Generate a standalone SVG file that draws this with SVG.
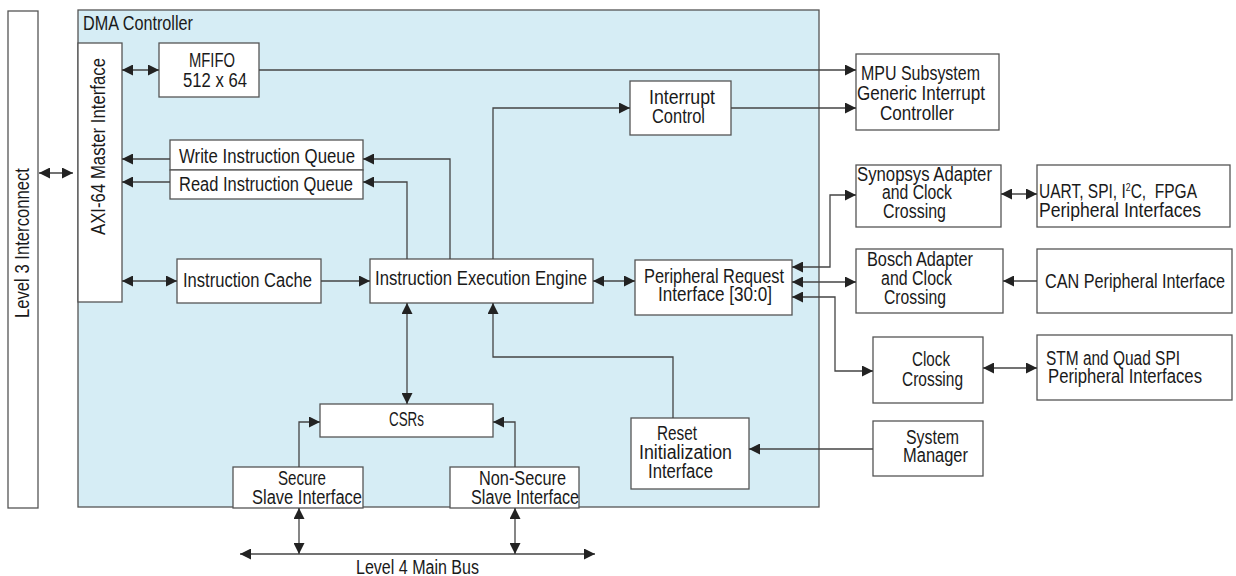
<svg xmlns="http://www.w3.org/2000/svg" width="1236" height="576" viewBox="0 0 1236 576">
<style>
.b{fill:#fff;stroke:#555;stroke-width:1.3}
.t{font-family:"Liberation Sans",Arial,sans-serif;font-size:19.5px;fill:#1a1a1a}
.c path{fill:none;stroke:#444;stroke-width:1.3}
.d{marker-end:url(#ah)}
.dd{marker-end:url(#ah);marker-start:url(#ah)}
</style>
<defs>
<marker id="ah" viewBox="0 0 12 12" refX="12" refY="6" markerWidth="12" markerHeight="11" markerUnits="userSpaceOnUse" orient="auto-start-reverse">
<path d="M0,0 L12,6 L0,12 z" fill="#222"/>
</marker>
</defs>
<rect width="1236" height="576" fill="#fff"/>

<g id="level3">
<rect class="b" x="8" y="11" width="30" height="497"/>
<text class="t" transform="translate(29,243) rotate(-90)" text-anchor="middle" textLength="150" lengthAdjust="spacingAndGlyphs">Level 3 Interconnect</text>
</g>

<g id="dma">
<rect x="78" y="10" width="741" height="497" fill="#d6edf5" stroke="#555" stroke-width="1.3"/>
<text class="t" x="83" y="30" textLength="110" lengthAdjust="spacingAndGlyphs">DMA Controller</text>
</g>

<g id="axi">
<rect class="b" x="78" y="43" width="44" height="259"/>
<text class="t" transform="translate(105,146.5) rotate(-90)" text-anchor="middle" textLength="177" lengthAdjust="spacingAndGlyphs">AXI-64 Master Interface</text>
</g>

<g id="mfifo">
<rect class="b" x="159" y="43" width="100" height="54"/>
<text class="t" x="189" y="67" textLength="46" lengthAdjust="spacingAndGlyphs">MFIFO</text>
<text class="t" x="183" y="87" textLength="64" lengthAdjust="spacingAndGlyphs">512 x 64</text>
</g>

<g id="intctrl">
<rect class="b" x="630" y="81" width="101" height="54"/>
<text class="t" x="649" y="104" textLength="66" lengthAdjust="spacingAndGlyphs">Interrupt</text>
<text class="t" x="652" y="123" textLength="53" lengthAdjust="spacingAndGlyphs">Control</text>
</g>

<g id="mpu">
<rect class="b" x="856" y="54" width="143" height="76"/>
<text class="t" x="861" y="80" textLength="119" lengthAdjust="spacingAndGlyphs">MPU Subsystem</text>
<text class="t" x="857" y="100" textLength="128" lengthAdjust="spacingAndGlyphs">Generic Interrupt</text>
<text class="t" x="880" y="120" textLength="74" lengthAdjust="spacingAndGlyphs">Controller</text>
</g>

<g id="writeq">
<rect class="b" x="170" y="140" width="193" height="30"/>
<text class="t" x="179" y="163" textLength="176" lengthAdjust="spacingAndGlyphs">Write Instruction Queue</text>
</g>

<g id="readq">
<rect class="b" x="170" y="170" width="193" height="29"/>
<text class="t" x="179" y="191" textLength="174" lengthAdjust="spacingAndGlyphs">Read Instruction Queue</text>
</g>

<g id="icache">
<rect class="b" x="177" y="259" width="144" height="44"/>
<text class="t" x="183" y="287" textLength="129" lengthAdjust="spacingAndGlyphs">Instruction Cache</text>
</g>

<g id="iee">
<rect class="b" x="370" y="259" width="223" height="44"/>
<text class="t" x="375" y="285" textLength="212" lengthAdjust="spacingAndGlyphs">Instruction Execution Engine</text>
</g>

<g id="pri">
<rect class="b" x="635" y="260" width="157" height="55"/>
<text class="t" x="644" y="283" textLength="140" lengthAdjust="spacingAndGlyphs">Peripheral Request</text>
<text class="t" x="658" y="301" textLength="114" lengthAdjust="spacingAndGlyphs">Interface [30:0]</text>
</g>

<g id="synopsys">
<rect class="b" x="856" y="165" width="145" height="62"/>
<text class="t" x="857" y="181" textLength="135" lengthAdjust="spacingAndGlyphs">Synopsys Adapter</text>
<text class="t" x="882" y="199" textLength="70" lengthAdjust="spacingAndGlyphs">and Clock</text>
<text class="t" x="883" y="218" textLength="63" lengthAdjust="spacingAndGlyphs">Crossing</text>
</g>

<g id="uart">
<rect class="b" x="1037" y="165" width="193" height="62"/>
<text class="t" x="1039" y="198" xml:space="preserve" textLength="158" lengthAdjust="spacingAndGlyphs">UART, SPI, I<tspan font-size="11" dy="-7">2</tspan><tspan dy="7">C,  FPGA</tspan></text>
<text class="t" x="1039" y="217" textLength="162" lengthAdjust="spacingAndGlyphs">Peripheral Interfaces</text>
</g>

<g id="bosch">
<rect class="b" x="856" y="249" width="147" height="64"/>
<text class="t" x="867" y="266" textLength="106" lengthAdjust="spacingAndGlyphs">Bosch Adapter</text>
<text class="t" x="881" y="285" textLength="71" lengthAdjust="spacingAndGlyphs">and Clock</text>
<text class="t" x="884" y="304" textLength="62" lengthAdjust="spacingAndGlyphs">Crossing</text>
</g>

<g id="can">
<rect class="b" x="1037" y="249" width="195" height="64"/>
<text class="t" x="1045" y="288" textLength="180" lengthAdjust="spacingAndGlyphs">CAN Peripheral Interface</text>
</g>

<g id="clockx">
<rect class="b" x="873" y="337" width="110" height="66"/>
<text class="t" x="912" y="366" textLength="38" lengthAdjust="spacingAndGlyphs">Clock</text>
<text class="t" x="902" y="386" textLength="61" lengthAdjust="spacingAndGlyphs">Crossing</text>
</g>

<g id="stm">
<rect class="b" x="1037" y="335" width="195" height="65"/>
<text class="t" x="1046" y="365" textLength="134" lengthAdjust="spacingAndGlyphs">STM and Quad SPI</text>
<text class="t" x="1048" y="383" textLength="154" lengthAdjust="spacingAndGlyphs">Peripheral Interfaces</text>
</g>

<g id="sysmgr">
<rect class="b" x="873" y="421" width="110" height="55"/>
<text class="t" x="906" y="444" textLength="53" lengthAdjust="spacingAndGlyphs">System</text>
<text class="t" x="903" y="462" textLength="65" lengthAdjust="spacingAndGlyphs">Manager</text>
</g>

<g id="reset">
<rect class="b" x="631" y="418" width="118" height="71"/>
<text class="t" x="657" y="440" textLength="40" lengthAdjust="spacingAndGlyphs">Reset</text>
<text class="t" x="639" y="459" textLength="93" lengthAdjust="spacingAndGlyphs">Initialization</text>
<text class="t" x="648" y="478" textLength="65" lengthAdjust="spacingAndGlyphs">Interface</text>
</g>

<g id="csrs">
<rect class="b" x="320" y="404" width="173" height="33"/>
<text class="t" x="389" y="426" textLength="35" lengthAdjust="spacingAndGlyphs">CSRs</text>
</g>

<g id="secure">
<rect class="b" x="233" y="467" width="130" height="41"/>
<text class="t" x="278" y="485" textLength="48" lengthAdjust="spacingAndGlyphs">Secure</text>
<text class="t" x="252" y="504" textLength="110" lengthAdjust="spacingAndGlyphs">Slave Interface</text>
</g>

<g id="nonsecure">
<rect class="b" x="450" y="467" width="129" height="41"/>
<text class="t" x="479" y="485" textLength="87" lengthAdjust="spacingAndGlyphs">Non-Secure</text>
<text class="t" x="471" y="504" textLength="108" lengthAdjust="spacingAndGlyphs">Slave Interface</text>
</g>

<g id="bus">
<text class="t" x="356" y="574" textLength="123" lengthAdjust="spacingAndGlyphs">Level 4 Main Bus</text>
</g>

<g id="connectors" class="c">
<path class="dd" d="M39,173 H73"/>
<path class="dd" d="M122,70 H159"/>
<path class="d" d="M259,70 H856"/>
<path class="d" d="M731,108 H856"/>
<path class="d" d="M493,259 V108 H630"/>
<path class="d" d="M450,259 V159 H363"/>
<path class="d" d="M407,259 V182 H363"/>
<path class="d" d="M170,159 H122"/>
<path class="d" d="M170,182 H122"/>
<path class="dd" d="M122,281 H177"/>
<path class="d" d="M321,281 H370"/>
<path class="dd" d="M593,281 H635"/>
<path class="dd" d="M792,267 H830 V195 H856"/>
<path class="dd" d="M792,282 H856"/>
<path class="dd" d="M792,297 H835 V371 H873"/>
<path class="dd" d="M1001,194 H1037"/>
<path class="d" d="M1037,281 H1003"/>
<path class="dd" d="M983,368 H1037"/>
<path class="d" d="M873,449 H749"/>
<path class="d" d="M673,418 V357 H493 V303"/>
<path class="dd" d="M407,303 V404"/>
<path class="d" d="M299,467 V422 H320"/>
<path class="d" d="M515,467 V422 H493"/>
<path class="dd" d="M240,554 H595"/>
<path class="dd" d="M299,508 V554"/>
<path class="dd" d="M515,508 V554"/>
</g>
</svg>
